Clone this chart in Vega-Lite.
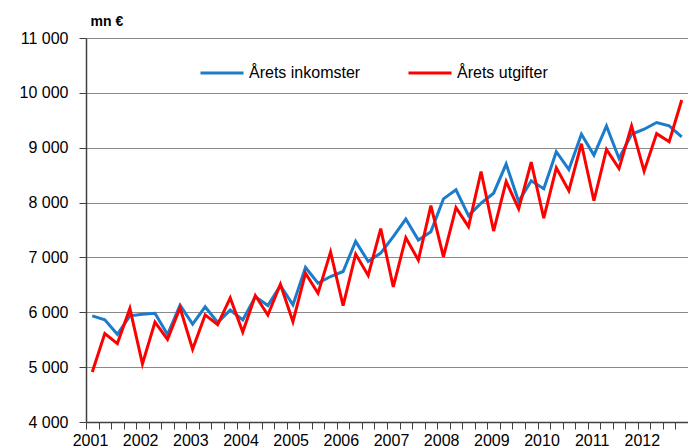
{
  "$schema": "https://vega.github.io/schema/vega-lite/v6.json",
  "width": 602,
  "height": 384,
  "autosize": {"type": "none"},
  "padding": {"left": 86, "top": 38, "right": 0, "bottom": 26},
  "background": "white",
  "config": {"view": {"stroke": null}, "font": "Liberation Sans"},
  "data": {"values": [
    {"t": 2001.125, "Årets inkomster": 5935, "Årets utgifter": 4910},
    {"t": 2001.375, "Årets inkomster": 5863, "Årets utgifter": 5613},
    {"t": 2001.625, "Årets inkomster": 5600, "Årets utgifter": 5429},
    {"t": 2001.875, "Årets inkomster": 5935, "Årets utgifter": 6071},
    {"t": 2002.125, "Årets inkomster": 5964, "Årets utgifter": 5060},
    {"t": 2002.375, "Årets inkomster": 5982, "Årets utgifter": 5821},
    {"t": 2002.625, "Årets inkomster": 5595, "Årets utgifter": 5506},
    {"t": 2002.875, "Årets inkomster": 6131, "Årets utgifter": 6083},
    {"t": 2003.125, "Årets inkomster": 5786, "Årets utgifter": 5328},
    {"t": 2003.375, "Årets inkomster": 6101, "Årets utgifter": 5952},
    {"t": 2003.625, "Årets inkomster": 5815, "Årets utgifter": 5774},
    {"t": 2003.875, "Årets inkomster": 6040, "Årets utgifter": 6262},
    {"t": 2004.125, "Årets inkomster": 5860, "Årets utgifter": 5640},
    {"t": 2004.375, "Årets inkomster": 6286, "Årets utgifter": 6305},
    {"t": 2004.625, "Årets inkomster": 6122, "Årets utgifter": 5951},
    {"t": 2004.875, "Årets inkomster": 6488, "Årets utgifter": 6512},
    {"t": 2005.125, "Årets inkomster": 6134, "Årets utgifter": 5829},
    {"t": 2005.375, "Årets inkomster": 6817, "Årets utgifter": 6713},
    {"t": 2005.625, "Årets inkomster": 6530, "Årets utgifter": 6347},
    {"t": 2005.875, "Årets inkomster": 6652, "Årets utgifter": 7098},
    {"t": 2006.125, "Årets inkomster": 6744, "Årets utgifter": 6122},
    {"t": 2006.375, "Årets inkomster": 7293, "Årets utgifter": 7061},
    {"t": 2006.625, "Årets inkomster": 6927, "Årets utgifter": 6671},
    {"t": 2006.875, "Årets inkomster": 7080, "Årets utgifter": 7525},
    {"t": 2007.125, "Årets inkomster": 7380, "Årets utgifter": 6463},
    {"t": 2007.375, "Årets inkomster": 7700, "Årets utgifter": 7360},
    {"t": 2007.625, "Årets inkomster": 7317, "Årets utgifter": 6951},
    {"t": 2007.875, "Årets inkomster": 7470, "Årets utgifter": 7945},
    {"t": 2008.125, "Årets inkomster": 8067, "Årets utgifter": 7012},
    {"t": 2008.375, "Årets inkomster": 8232, "Årets utgifter": 7908},
    {"t": 2008.625, "Årets inkomster": 7762, "Årets utgifter": 7561},
    {"t": 2008.875, "Årets inkomster": 7988, "Årets utgifter": 8567},
    {"t": 2009.125, "Årets inkomster": 8171, "Årets utgifter": 7481},
    {"t": 2009.375, "Årets inkomster": 8702, "Årets utgifter": 8384},
    {"t": 2009.625, "Årets inkomster": 8018, "Årets utgifter": 7884},
    {"t": 2009.875, "Årets inkomster": 8397, "Årets utgifter": 8738},
    {"t": 2010.125, "Årets inkomster": 8253, "Årets utgifter": 7715},
    {"t": 2010.375, "Årets inkomster": 8927, "Årets utgifter": 8633},
    {"t": 2010.625, "Årets inkomster": 8602, "Årets utgifter": 8217},
    {"t": 2010.875, "Årets inkomster": 9245, "Årets utgifter": 9073},
    {"t": 2011.125, "Årets inkomster": 8865, "Årets utgifter": 8033},
    {"t": 2011.375, "Årets inkomster": 9398, "Årets utgifter": 8969},
    {"t": 2011.625, "Årets inkomster": 8804, "Årets utgifter": 8620},
    {"t": 2011.875, "Årets inkomster": 9245, "Årets utgifter": 9398},
    {"t": 2012.125, "Årets inkomster": 9337, "Årets utgifter": 8572},
    {"t": 2012.375, "Årets inkomster": 9459, "Årets utgifter": 9257},
    {"t": 2012.625, "Årets inkomster": 9398, "Årets utgifter": 9110},
    {"t": 2012.875, "Årets inkomster": 9196, "Årets utgifter": 9869}
  ]},
  "transform": [{"fold": ["Årets inkomster", "Årets utgifter"], "as": ["serie", "v"]}],
  "mark": {"type": "line", "strokeWidth": 3},
  "encoding": {
    "x": {
      "field": "t", "type": "quantitative",
      "scale": {"domain": [2001, 2013], "nice": false, "zero": false},
      "axis": {
        "title": null,
        "values": [2001, 2001.25, 2001.5, 2001.75, 2002, 2002.25, 2002.5, 2002.75, 2003, 2003.25, 2003.5, 2003.75, 2004, 2004.25, 2004.5, 2004.75, 2005, 2005.25, 2005.5, 2005.75, 2006, 2006.25, 2006.5, 2006.75, 2007, 2007.25, 2007.5, 2007.75, 2008, 2008.25, 2008.5, 2008.75, 2009, 2009.25, 2009.5, 2009.75, 2010, 2010.25, 2010.5, 2010.75, 2011, 2011.25, 2011.5, 2011.75, 2012, 2012.25, 2012.5, 2012.75, 2013],
        "grid": false,
        "domainColor": "#404040", "domainWidth": 1.5,
        "tickColor": "#404040", "tickSize": 7,
        "labelExpr": "(datum.value % 1 === 0 && datum.value < 2013) ? toString(datum.value) : ''",
        "labelOverlap": false, "labelBound": false, "labelFlush": false,
        "labelFontSize": 16, "labelColor": "#000000",
        "labelOffset": 4, "labelPadding": 3
      }
    },
    "y": {
      "field": "v", "type": "quantitative",
      "scale": {"domain": [4000, 11000], "nice": false, "zero": false},
      "axis": {
        "title": "mn €", "titleAngle": 0, "titleAlign": "left", "titleBaseline": "middle",
        "titleX": 4, "titleY": -17, "titleFontSize": 14, "titleFontWeight": "bold", "titleColor": "#000000",
        "values": [4000, 5000, 6000, 7000, 8000, 9000, 10000, 11000],
        "labelExpr": "replace(format(datum.value, ','), ',', ' ')",
        "labelFontSize": 16, "labelColor": "#000000", "labelPadding": 11,
        "tickSize": 7, "tickColor": "#404040",
        "domainColor": "#404040", "domainWidth": 1.5,
        "grid": true, "gridColor": "#8a8a8a", "gridWidth": 1.2
      }
    },
    "color": {
      "field": "serie", "type": "nominal",
      "scale": {"domain": ["Årets inkomster", "Årets utgifter"], "range": ["#1c7ccc", "#ff0000"]},
      "legend": {
        "title": null, "orient": "none", "legendX": 113, "legendY": 12,
        "direction": "horizontal", "symbolType": "stroke", "symbolSize": 1849,
        "symbolStrokeWidth": 3, "labelFontSize": 16, "labelColor": "#000000",
        "columnPadding": 41, "labelOffset": 4
      }
    }
  }
}
